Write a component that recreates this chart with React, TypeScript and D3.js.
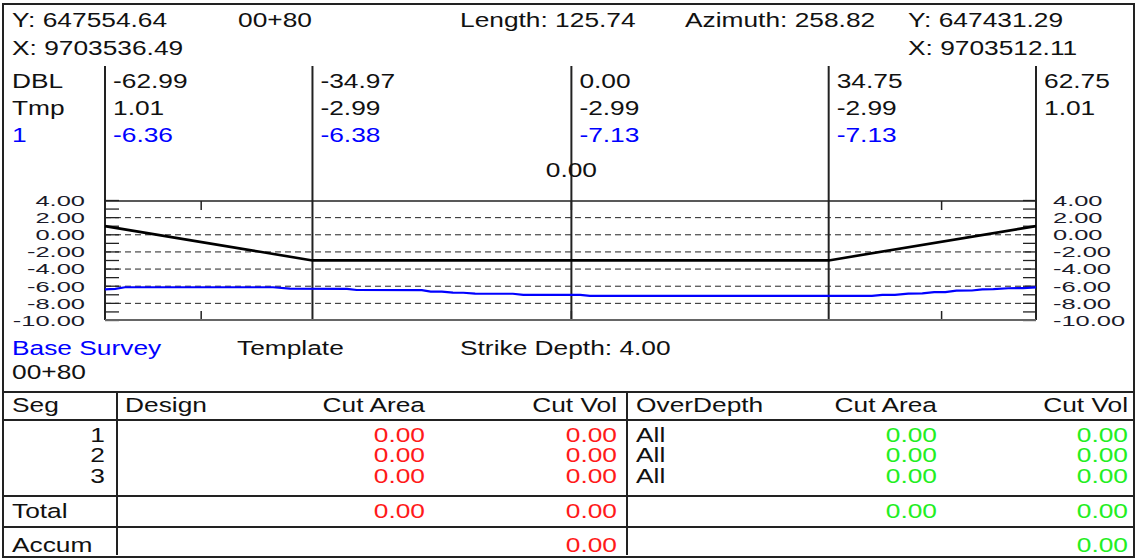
import React from "react";
import * as d3 from "d3";

// ---------- data ----------
const stationOffsets = [-62.99, -34.97, 0.0, 34.75, 62.75];
const templateElev = [1.01, -2.99, -2.99, -2.99, 1.01];
const surveyAtStations = [-6.36, -6.38, -7.13, -7.13];

const surveyOffsets = [-62.99, -61.6, -60.3, -40.3, -38.0, -30.3, -29.0, -20.2, -19.0, -17.5, -16.0, -14.6, -13.0, -7.9, -6.5, 1.2, 2.5, 40.6, 42.0, 43.7, 45.5, 47.4, 49.0, 50.5, 52.0, 54.1, 55.5, 57.0, 59.0, 61.0, 62.75];
const surveyElev = [-6.36, -6.3, -6.12, -6.12, -6.28, -6.3, -6.44, -6.46, -6.62, -6.64, -6.74, -6.76, -6.86, -6.88, -7.02, -7.02, -7.13, -7.13, -7.02, -7.0, -6.86, -6.84, -6.7, -6.68, -6.52, -6.5, -6.37, -6.35, -6.24, -6.22, -6.13];

const yTicks = [4, 2, 0, -2, -4, -6, -8, -10];
const xTicks = [-50, 0, 50];

const segs = ["1", "2", "3"];
const designCutArea = [0.0, 0.0, 0.0];
const designCutVol = [0.0, 0.0, 0.0];
const overDepthNames = ["All", "All", "All"];
const overCutArea = [0.0, 0.0, 0.0];
const overCutVol = [0.0, 0.0, 0.0];
const totals = { designArea: 0.0, designVol: 0.0, overArea: 0.0, overVol: 0.0 };
const accum = { designVol: 0.0, overVol: 0.0 };

// ---------- layout ----------
const W = 1136;
const H = 560;
const FONT = "'Liberation Sans', Arial, sans-serif";
const INK = "#111";
const BLUE = "#0000ff";
const RED = "#ff1a1a";
const GREEN = "#22ee22";

const x = d3.scaleLinear().domain([-62.99, 62.75]).range([105, 1036]);
const y = d3.scaleLinear().domain([-10, 4]).range([320.5, 200.5]);

function T({ x, y, children, fill = INK, anchor = "start", size = 19.5, sx = 1.35 }: any) {
  return (
    <text
      transform={`translate(${x},${y}) scale(${sx},1)`}
      textAnchor={anchor}
      fontSize={size}
      fontFamily={FONT}
      fill={fill}
      dominantBaseline="central"
    >
      {children}
    </text>
  );
}

const f2 = (v: number) => v.toFixed(2);

export default function App() {
  const line = d3.line<[number, number]>().x((d) => x(d[0])).y((d) => y(d[1]));
  const templatePts = stationOffsets.map((o, i) => [o, templateElev[i]] as [number, number]);
  const surveyPts = surveyOffsets.map((o, i) => [o, surveyElev[i]] as [number, number]);
  const minor = d3.range(-10, 4.001, 1);
  const plotL = x.range()[0];
  const plotR = x.range()[1];
  const plotT = 201;
  const plotB = 320;

  const colArea1 = 425, colVol1 = 617, colOD = 636, colArea2 = 937, colVol2 = 1128;
  const rowYs = [435, 455, 476];

  return (
    <svg width={W} height={H} style={{ position: "absolute", left: 0, top: 0, background: "#fff" }}>
      <rect x={0} y={0} width={W} height={H} fill="#fff" />
      <rect x={3} y={4} width={1131} height={553} fill="none" stroke="#222" strokeWidth={2} />

      {/* header */}
      <T x={12} y={20}>Y: 647554.64</T>
      <T x={238} y={20}>00+80</T>
      <T x={460} y={20}>Length: 125.74</T>
      <T x={685} y={20}>Azimuth: 258.82</T>
      <T x={908} y={20}>Y: 647431.29</T>
      <T x={12} y={48}>X: 9703536.49</T>
      <T x={908} y={48}>X: 9703512.11</T>

      {/* station columns */}
      {stationOffsets.map((o, i) => (
        <line key={"v" + i} x1={x(o)} x2={x(o)} y1={66} y2={plotB} stroke="#222" strokeWidth={2} />
      ))}
      <T x={12} y={81}>DBL</T>
      <T x={12} y={108}>Tmp</T>
      <T x={12} y={135} fill={BLUE}>1</T>
      {stationOffsets.map((o, i) => (
        <T key={"o" + i} x={x(o) + 8} y={81}>{f2(o)}</T>
      ))}
      {templateElev.map((v, i) => (
        <T key={"t" + i} x={x(stationOffsets[i]) + 8} y={108}>{f2(v)}</T>
      ))}
      {surveyAtStations.map((v, i) => (
        <T key={"s" + i} x={x(stationOffsets[i]) + 8} y={135} fill={BLUE}>{f2(v)}</T>
      ))}
      <T x={x(0)} y={170} anchor="middle">0.00</T>

      {/* plot */}
      {yTicks.filter((v) => v < 4 && v > -10).map((v) => (
        <line key={"g" + v} x1={plotL} x2={plotR} y1={y(v)} y2={y(v)} stroke="#222" strokeWidth={1} strokeDasharray="6,4" />
      ))}
      {minor.map((v) => (
        <g key={"m" + v}>
          <line x1={plotL} x2={plotL + 14} y1={y(v)} y2={y(v)} stroke="#222" strokeWidth={1.3} />
          <line x1={plotR - 13} x2={plotR} y1={y(v)} y2={y(v)} stroke="#222" strokeWidth={1.3} />
        </g>
      ))}
      {xTicks.map((v) => (
        <g key={"xt" + v}>
          <line x1={x(v)} x2={x(v)} y1={plotT} y2={plotT + 9} stroke="#222" strokeWidth={1.5} />
          <line x1={x(v)} x2={x(v)} y1={plotB - 9} y2={plotB} stroke="#222" strokeWidth={1.5} />
        </g>
      ))}
      <line x1={plotL} x2={plotR} y1={plotT} y2={plotT} stroke="#222" strokeWidth={1.5} />
      <line x1={plotL} x2={plotR} y1={plotB} y2={plotB} stroke="#666" strokeWidth={2} />
      <path d={line(surveyPts) || ""} fill="none" stroke={BLUE} strokeWidth={2.2} />
      <path d={line(templatePts) || ""} fill="none" stroke="#000" strokeWidth={2.6} />

      {yTicks.map((v) => (
        <g key={"yl" + v}>
          <T x={85} y={y(v)} anchor="end" size={14.8} sx={1.72} fill="#1a1a2a">{f2(v)}</T>
          <T x={1053} y={y(v)} anchor="start" size={14.8} sx={1.72} fill="#1a1a2a">{f2(v)}</T>
        </g>
      ))}

      {/* legend */}
      <T x={12} y={348} fill={BLUE}>Base Survey</T>
      <T x={237} y={348}>Template</T>
      <T x={460} y={348}>Strike Depth: 4.00</T>
      <T x={12} y={372}>00+80</T>

      {/* table */}
      {[392, 420, 496, 527].map((yy) => (
        <line key={"h" + yy} x1={3} x2={1134} y1={yy} y2={yy} stroke="#222" strokeWidth={2} />
      ))}
      {[117, 627].map((xx) => (
        <line key={"tv" + xx} x1={xx} x2={xx} y1={392} y2={555} stroke="#222" strokeWidth={2} />
      ))}
      <T x={12} y={405}>Seg</T>
      <T x={125} y={405}>Design</T>
      <T x={colArea1} y={405} anchor="end">Cut Area</T>
      <T x={colVol1} y={405} anchor="end">Cut Vol</T>
      <T x={colOD} y={405}>OverDepth</T>
      <T x={colArea2} y={405} anchor="end">Cut Area</T>
      <T x={colVol2} y={405} anchor="end">Cut Vol</T>

      {segs.map((s, i) => (
        <g key={"r" + i}>
          <T x={105} y={rowYs[i]} anchor="end">{s}</T>
          <T x={colArea1} y={rowYs[i]} anchor="end" fill={RED}>{f2(designCutArea[i])}</T>
          <T x={colVol1} y={rowYs[i]} anchor="end" fill={RED}>{f2(designCutVol[i])}</T>
          <T x={colOD} y={rowYs[i]}>{overDepthNames[i]}</T>
          <T x={colArea2} y={rowYs[i]} anchor="end" fill={GREEN}>{f2(overCutArea[i])}</T>
          <T x={colVol2} y={rowYs[i]} anchor="end" fill={GREEN}>{f2(overCutVol[i])}</T>
        </g>
      ))}

      <T x={12} y={511}>Total</T>
      <T x={colArea1} y={511} anchor="end" fill={RED}>{f2(totals.designArea)}</T>
      <T x={colVol1} y={511} anchor="end" fill={RED}>{f2(totals.designVol)}</T>
      <T x={colArea2} y={511} anchor="end" fill={GREEN}>{f2(totals.overArea)}</T>
      <T x={colVol2} y={511} anchor="end" fill={GREEN}>{f2(totals.overVol)}</T>

      <T x={12} y={545}>Accum</T>
      <T x={colVol1} y={545} anchor="end" fill={RED}>{f2(accum.designVol)}</T>
      <T x={colVol2} y={545} anchor="end" fill={GREEN}>{f2(accum.overVol)}</T>
    </svg>
  );
}
